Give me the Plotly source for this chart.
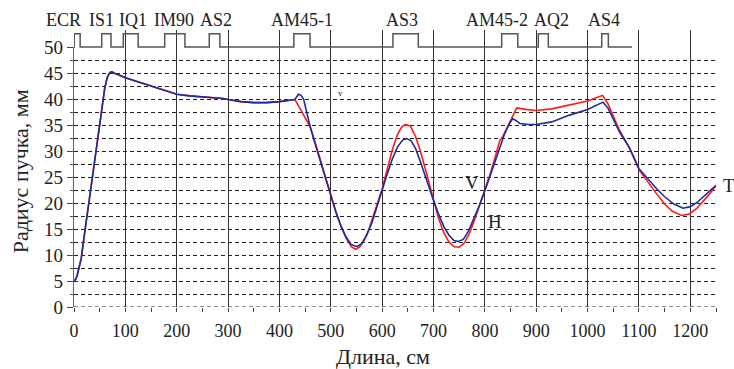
import plotly.graph_objects as go

# ---- beam envelope along the line (cm -> mm) ----
x_red = [0, 3, 6, 10, 14, 20, 30, 40, 50, 55, 60, 65, 70, 74, 80, 100, 125, 150, 175, 200,
         225, 250, 275, 290, 300, 325, 350, 375, 400, 420, 430,
         440, 453, 460, 470, 480, 490, 500, 510, 520, 530, 540, 548, 556, 565, 575, 590,
         600, 610, 620, 630, 638, 645, 655, 665, 675, 685, 695, 700, 710, 720, 730, 740,
         750, 760, 770, 780, 790, 800, 810, 820, 829, 835, 848, 862, 880, 900, 930, 965,
         1000, 1029, 1040, 1062, 1082, 1100, 1117, 1134, 1150, 1165, 1183, 1198, 1212,
         1225, 1238, 1250]
y_red = [5.0, 5.3, 6.0, 7.4, 9.3, 13.7, 21.0, 28.3, 35.6, 39.2, 42.2, 44.2, 45.1, 45.2,
         44.9, 44.1, 43.3, 42.5, 41.7, 40.9, 40.6, 40.4, 40.3, 40.1, 39.9, 39.5, 39.3,
         39.3, 39.5, 39.8, 39.9,
         38.2, 35.9, 34.6, 31.5, 28.2, 24.8, 21.5, 18.3, 15.5, 13.2, 11.6, 11.1, 11.5,
         12.8, 15.2, 19.5, 22.7, 26.6, 30.3, 33.2, 34.6, 35.1, 34.8, 32.8, 29.8, 26.2,
         22.3, 20.5, 17.0, 14.3, 12.5, 11.6, 11.5, 12.3, 14.2, 16.8, 19.6, 22.3, 25.5,
         28.8, 32.0, 32.8, 35.6, 38.3, 38.0, 37.8, 38.1, 38.8, 39.6, 40.7, 39.0, 34.0,
         30.5, 26.4, 24.0, 21.8, 19.8, 18.4, 17.6, 17.9, 18.9, 20.3, 21.8, 23.4]

x_blue = [0, 3, 6, 10, 14, 20, 30, 40, 50, 55, 60, 65, 70, 74, 80, 100, 125, 150, 175, 200,
          225, 250, 275, 290, 300, 325, 350, 375, 400, 420, 430,
          437, 442, 447, 453, 460, 470, 480, 490, 500, 510, 520, 530, 540, 551, 560, 570,
          580, 590, 600, 610, 620, 630, 640, 648, 656, 665, 675, 685, 695, 700, 710, 720,
          730, 740, 748, 758, 768, 778, 788, 798, 808, 818, 828, 838, 848, 854, 860, 868,
          885, 900, 930, 965, 1000, 1030, 1040, 1062, 1082, 1100, 1117, 1134, 1150, 1168,
          1186, 1200, 1213, 1226, 1238, 1250]
y_blue = [5.0, 5.3, 6.0, 7.4, 9.3, 13.7, 21.0, 28.3, 35.6, 39.2, 42.2, 44.2, 45.1, 45.2,
          44.9, 44.1, 43.3, 42.5, 41.7, 40.9, 40.6, 40.4, 40.3, 40.1, 39.9, 39.5, 39.3,
          39.3, 39.5, 39.8, 39.9,
          40.9, 40.7, 40.0, 37.2, 34.6, 31.2, 28.0, 24.6, 21.4, 18.2, 15.5, 13.4, 12.0,
          11.6, 12.2, 13.8, 16.2, 19.4, 22.4, 25.6, 28.5, 30.8, 32.1, 32.4, 32.0, 30.5,
          27.8, 24.8, 22.0, 20.5, 17.8, 15.5, 13.8, 12.8, 12.6, 13.0, 14.6, 16.8, 19.2,
          21.8, 24.5, 27.3, 30.3, 33.2, 35.3, 36.2, 35.9, 35.3, 35.1, 35.1, 35.6, 36.9,
          38.0, 39.4, 38.2, 33.7, 30.5, 26.6, 24.6, 22.8, 21.2, 19.8, 19.0, 19.3, 20.1,
          21.2, 22.3, 23.4]

# ---- beamline elements (start / end, cm) and their label positions ----
elem_names = ["ECR", "IS1", "IQ1", "IM90", "AS2", "AM45-1", "AS3", "AM45-2", "AQ2", "AS4"]
elem_start = [0.5, 54, 96, 176.6, 263.4, 428, 621, 832.7, 904, 1027.5]
elem_end = [12, 72, 125, 216, 284, 459.5, 670.4, 864, 923.5, 1040.4]
elem_label_x = [-20.4, 53.5, 114.9, 194.7, 276.5, 443.3, 638.6, 823.6, 929.7, 1032]
line_end = 1086.5

x_ticks = list(range(0, 1201, 100))
y_ticks = list(range(0, 51, 5))

X_MAX = 1250
SERIF = "Liberation Serif, Times New Roman, serif"
TXT = "#222"

# element outline: baseline with a raised box for each element
ex, ey = [0], [0]
for s, e in zip(elem_start, elem_end):
    ex += [s, s, e, e]
    ey += [0, 1, 1, 0]
ex.append(line_end)
ey.append(0)

fig = go.Figure()
fig.add_trace(go.Scatter(x=x_red, y=y_red, mode="lines", name="V",
                         line=dict(color="#ff1a1a", width=1.6)))
fig.add_trace(go.Scatter(x=x_blue, y=y_blue, mode="lines", name="H",
                         line=dict(color="#1f2a9c", width=1.6)))
fig.add_trace(go.Scatter(x=ex, y=ey, mode="lines", yaxis="y2", hoverinfo="skip",
                         line=dict(color="#555555", width=1.5)))

L, R, T, B, W, H = 74, 18, 30, 62, 734, 369


def x_to_paper(xv):
    return xv / X_MAX


for name, lx in zip(elem_names, elem_label_x):
    fig.add_annotation(x=x_to_paper(lx), y=1.036, xref="paper", yref="paper", text=name,
                       showarrow=False, xanchor="center", yanchor="middle",
                       font=dict(family=SERIF, size=18, color=TXT))

# curve labels
for txt, cx, cy, fs in [("V", 774, 23.9, 19), ("H", 820, 16.4, 19),
                        ("T", 1275, 23.3, 19), ("v", 518, 41.2, 9)]:
    fig.add_annotation(x=x_to_paper(cx), y=cy, xref="paper", yref="y", text=txt,
                       showarrow=False, xanchor="center",
                       font=dict(family=SERIF, size=fs, color=TXT))

# axis titles
fig.add_annotation(x=0.481, y=-0.177, xref="paper", yref="paper", text="Длина, см",
                   showarrow=False, xanchor="center", yanchor="middle",
                   font=dict(family=SERIF, size=22, color=TXT))
fig.add_annotation(x=-0.084, y=0.490, xref="paper", yref="paper",
                   text="Радиус пучка, мм", textangle=-90, showarrow=False,
                   xanchor="center", yanchor="middle",
                   font=dict(family=SERIF, size=22, color=TXT))

# dashed lines on the top and bottom edges of the grid
for yv in (0, 50):
    fig.add_shape(type="line", xref="x", yref="y", x0=0, x1=X_MAX, y0=yv, y1=yv,
                  line=dict(color="#222", width=1, dash="4px,3px"), layer="below")

fig.update_layout(
    width=W, height=H,
    margin=dict(l=L, r=R, t=T, b=B),
    paper_bgcolor="white", plot_bgcolor="white",
    showlegend=False,
    xaxis=dict(range=[0, X_MAX], tickvals=x_ticks, ticks="outside", ticklen=4,
               tickcolor="#444", showgrid=True, gridcolor="#333", gridwidth=1.3,
               zeroline=False, showline=False, ticklabelstandoff=3,
               tickfont=dict(family=SERIF, size=18, color=TXT),
               minor=dict(dtick=50, ticks="outside", ticklen=4, tickcolor="#444",
                          showgrid=False)),
    yaxis=dict(range=[0, 50], domain=[0, 260 / 277], tickvals=y_ticks, ticks="outside",
               ticklen=6, tickcolor="#444", showgrid=True, gridcolor="#222", gridwidth=1,
               griddash="4px,3px", zeroline=False, showline=True, linecolor="#666",
               linewidth=1.3,
               tickfont=dict(family=SERIF, size=19, color=TXT),
               minor=dict(dtick=2.5, ticks="outside", ticklen=3, tickcolor="#444",
                          showgrid=True, gridcolor="#222", gridwidth=1,
                          griddash="4px,3px")),
    yaxis2=dict(domain=[257 / 277, 1], range=[-3 / 13.3, 17 / 13.3], anchor="x",
                visible=False, fixedrange=True),
)

fig.write_html("out.html")
